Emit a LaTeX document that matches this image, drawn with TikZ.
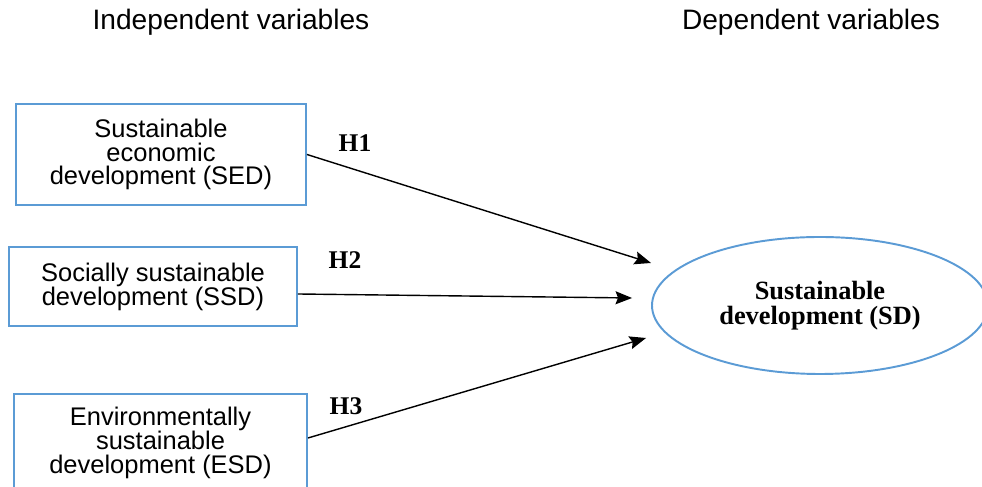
\documentclass[tikz,border=0pt]{standalone}
\usepackage{fontspec}
\setmainfont{Liberation Serif}
\setsansfont{Liberation Sans}
\usetikzlibrary{positioning,arrows.meta,calc,shapes.geometric}
\definecolor{boxblue}{RGB}{91,155,213}
\newcommand\tightlines{\lineskiplimit-8pt\relax}
\tikzset{
  varbox/.style={draw=boxblue, line width=1.1pt, align=center,
                 font=\sffamily\fontsize{14.5}{13.6}\selectfont\tightlines, inner sep=2pt},
  depell/.style={ellipse, draw=boxblue, line width=1.1pt, align=center, inner sep=0pt,
                 font=\bfseries\fontsize{15}{14.6}\selectfont},
  hlab/.style={font=\bfseries\fontsize{14.5}{14.5}\selectfont},
  head/.style={font=\sffamily\fontsize{16}{16}\selectfont},
  flow/.style={-{Stealth[length=3.3mm, width=2.6mm, inset=0.5mm]}, line width=0.8pt},
}

\begin{document}
\begin{tikzpicture}
    \useasboundingbox (0,0) rectangle (19.64,9.74);
    \clip (0,0) rectangle (19.64,9.74);
    \node[head] (indep) at (4.62,9.30) {Independent variables};
    \node[head] (dep) at (16.22,9.30) {Dependent variables};
    % independent variables
    \node[varbox, minimum width=5.8cm, minimum height=2.02cm] (sed) at (3.22,6.65)
      {Sustainable\\economic\\development (SED)};
    \node[varbox, minimum width=5.76cm, minimum height=1.58cm] (ssd) at (3.06,4.01)
      {Socially sustainable\\development (SSD)};
    \node[varbox, minimum width=5.86cm, minimum height=1.96cm] (esd) at (3.21,0.88)
      {Environmentally\\sustainable\\development (ESD)};
    % dependent variable
    \node[depell, minimum width=6.72cm, minimum height=2.74cm] (sd) at (16.40,3.63)
      {Sustainable\\development (SD)};
    \coordinate (tip1) at ($(sd.west)+(0,0.85)$);
    \coordinate (tip2) at ($(sd.west)+(-0.38,0.15)$);
    \coordinate (tip3) at ($(sd.west)+(-0.10,-0.65)$);
    \draw[flow] (sed.east) -- (tip1);
    \draw[flow] ([yshift=-0.15cm]ssd.east) -- (tip2);
    \draw[flow] ([yshift=0.1cm]esd.east) -- (tip3);
    \node[hlab] (h1) at (7.10,6.88) {H1};
    \node[hlab] (h2) at (6.90,4.54) {H2};
    \node[hlab] (h3) at (6.92,1.62) {H3};
  \end{tikzpicture}
\end{document}
